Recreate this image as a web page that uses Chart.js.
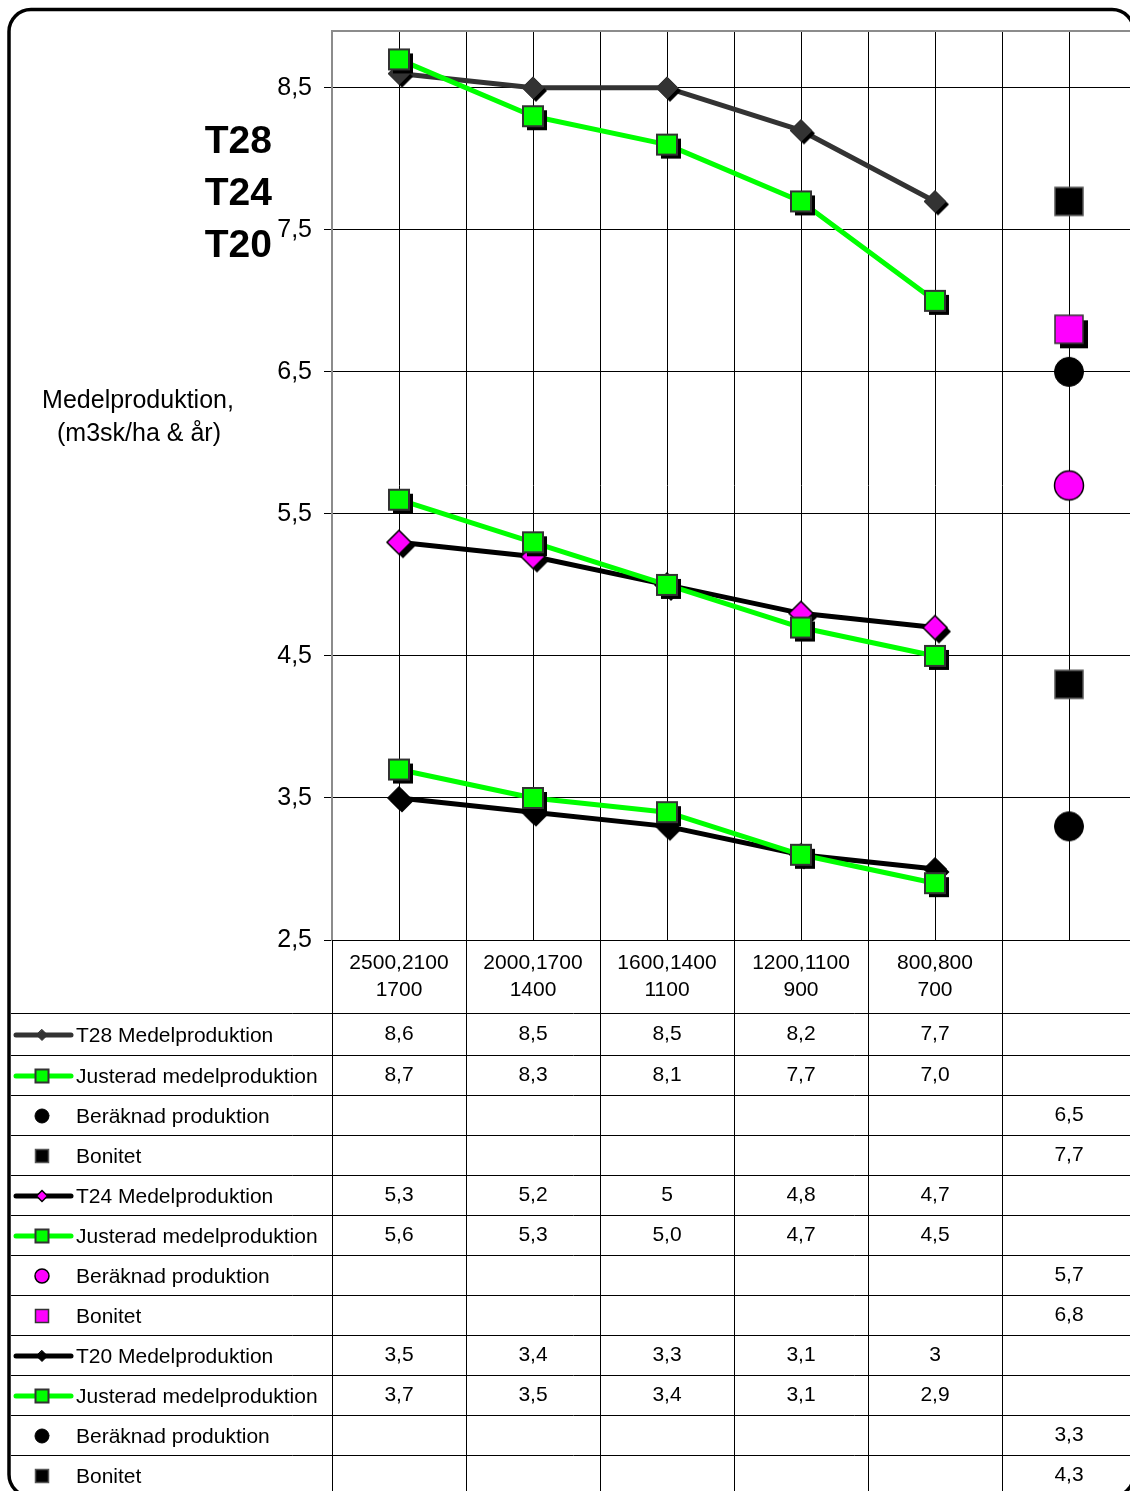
<!DOCTYPE html>
<html>
<head>
<meta charset="utf-8">
<title>Medelproduktion T28 T24 T20</title>
<script src="https://cdn.jsdelivr.net/npm/chart.js@4/dist/chart.umd.min.js"></script>
<style>
  html, body { margin: 0; padding: 0; background: #fff; overflow: hidden; }
  canvas { display: block; }
</style>
</head>
<body>
<canvas id="chart" width="1136" height="1491"></canvas>
<script>
// Stand densities (stems/ha at successive thinnings); last column holds the site values
const categories = [
  ['2500,2100', '1700'],
  ['2000,1700', '1400'],
  ['1600,1400', '1100'],
  ['1200,1100', '900'],
  ['800,800', '700'],
  ''
];

const t28Medel    = [8.6, 8.5, 8.5, 8.2, 7.7];
const t28Justerad = [8.7, 8.3, 8.1, 7.7, 7.0];
const t28Beraknad = 6.5;
const t28Bonitet  = 7.7;

const t24Medel    = [5.3, 5.2, 5, 4.8, 4.7];
const t24Justerad = [5.6, 5.3, 5.0, 4.7, 4.5];
const t24Beraknad = 5.7;
const t24Bonitet  = 6.8;

const t20Medel    = [3.5, 3.4, 3.3, 3.1, 3];
const t20Justerad = [3.7, 3.5, 3.4, 3.1, 2.9];
const t20Beraknad = 3.3;
const t20Bonitet  = 4.3;

const yTicks = [2.5, 3.5, 4.5, 5.5, 6.5, 7.5, 8.5];
const siteClasses = ['T28', 'T24', 'T20'];
const yTitle = ['Medelproduktion,', '(m3sk/ha & år)'];

const FONT = 'Arial, "Liberation Sans", Helvetica, sans-serif';

// single value placed in the last (site) column
const lastOnly = v => categories.map((_, i) => (i === categories.length - 1 ? v : null));
const general = v => String(v).replace('.', ',');
const oneDecimal = v => v.toFixed(1).replace('.', ',');

const GREEN = '#00ff00', MAGENTA = '#ff00ff', DARK = '#333333', BLACK = '#000000';

const series = [
  { label: 'T28 Medelproduktion', data: t28Medel, fmt: general, line: DARK,
    shape: 'diamond', size: 22, fill: DARK, stroke: DARK, strokeW: 1, shadow: 3, keySize: 11 },
  { label: 'Justerad medelproduktion', data: t28Justerad, fmt: oneDecimal, line: GREEN,
    shape: 'square', size: 20, fill: GREEN, stroke: DARK, strokeW: 2, shadow: 4, keySize: 13 },
  { label: 'Beräknad produktion', data: lastOnly(t28Beraknad), fmt: general, line: null,
    shape: 'circle', size: 29, fill: BLACK, stroke: BLACK, strokeW: 1, shadow: 0, keySize: 14 },
  { label: 'Bonitet', data: lastOnly(t28Bonitet), fmt: general, line: null,
    shape: 'square', size: 28, fill: BLACK, stroke: '#555555', strokeW: 1.5, shadow: 0, keySize: 13 },

  { label: 'T24 Medelproduktion', data: t24Medel, fmt: general, line: BLACK,
    shape: 'diamond', size: 24, fill: MAGENTA, stroke: BLACK, strokeW: 1.5, shadow: 4, keySize: 11 },
  { label: 'Justerad medelproduktion', data: t24Justerad, fmt: oneDecimal, line: GREEN,
    shape: 'square', size: 20, fill: GREEN, stroke: DARK, strokeW: 2, shadow: 4, keySize: 13 },
  { label: 'Beräknad produktion', data: lastOnly(t24Beraknad), fmt: general, line: null,
    shape: 'circle', size: 29, fill: MAGENTA, stroke: BLACK, strokeW: 1.5, shadow: 0, keySize: 14 },
  { label: 'Bonitet', data: lastOnly(t24Bonitet), fmt: general, line: null,
    shape: 'square', size: 28, fill: MAGENTA, stroke: DARK, strokeW: 1.5, shadow: 5, keySize: 13 },

  { label: 'T20 Medelproduktion', data: t20Medel, fmt: general, line: BLACK,
    shape: 'diamond', size: 23, fill: BLACK, stroke: BLACK, strokeW: 1, shadow: 3, keySize: 11 },
  { label: 'Justerad medelproduktion', data: t20Justerad, fmt: oneDecimal, line: GREEN,
    shape: 'square', size: 20, fill: GREEN, stroke: DARK, strokeW: 2, shadow: 4, keySize: 13 },
  { label: 'Beräknad produktion', data: lastOnly(t20Beraknad), fmt: general, line: null,
    shape: 'circle', size: 29, fill: BLACK, stroke: BLACK, strokeW: 1, shadow: 0, keySize: 14 },
  { label: 'Bonitet', data: lastOnly(t20Bonitet), fmt: general, line: null,
    shape: 'square', size: 28, fill: BLACK, stroke: '#555555', strokeW: 1.5, shadow: 0, keySize: 13 }
];

function shapePath(g, shape, x, y, s) {
  g.beginPath();
  if (shape === 'diamond') {
    const h = s / 2;
    g.moveTo(x, y - h); g.lineTo(x + h, y); g.lineTo(x, y + h); g.lineTo(x - h, y);
    g.closePath();
  } else if (shape === 'square') {
    g.rect(x - s / 2, y - s / 2, s, s);
  } else {
    g.arc(x, y, s / 2, 0, Math.PI * 2);
  }
}

function drawMarker(g, s, x, y, size, withShadow) {
  if (withShadow && s.shadow) {
    shapePath(g, s.shape, x + s.shadow, y + s.shadow, size);
    g.fillStyle = BLACK;
    g.fill();
  }
  shapePath(g, s.shape, x, y, size);
  g.fillStyle = s.fill;
  g.fill();
  if (s.strokeW) {
    g.lineWidth = s.strokeW;
    g.strokeStyle = s.stroke;
    g.lineJoin = 'miter';
    g.stroke();
  }
}

// marker sprite (with drop shadow) used as the point style
function markerSprite(s) {
  const pad = Math.ceil(s.shadow + s.strokeW + 2);
  let dim = Math.ceil(s.size + 2 * pad);
  if (dim % 2) dim++;
  const cv = document.createElement('canvas');
  cv.width = dim; cv.height = dim;
  drawMarker(cv.getContext('2d'), s, dim / 2, dim / 2, s.size, true);
  return cv;
}

const datasets = series.map((s, i) => ({
  label: s.label,
  data: s.data,
  showLine: !!s.line,
  borderColor: s.line || BLACK,
  borderWidth: 5,
  borderJoinStyle: 'round',
  borderCapStyle: 'round',
  tension: 0,
  pointStyle: markerSprite(s),
  pointRadius: s.size / 2,
  pointHoverRadius: s.size / 2,
  fill: false,
  clip: 20,
  order: -i
}));

// vertical lines through each category centre
const centreLines = {
  id: 'centreLines',
  beforeDatasetsDraw(chart) {
    const { ctx, chartArea: a, scales: { x } } = chart;
    ctx.save();
    ctx.strokeStyle = BLACK;
    ctx.lineWidth = 1;
    ctx.beginPath();
    categories.forEach((_, i) => {
      const px = Math.round(x.getPixelForValue(i)) + 0.5;
      ctx.moveTo(px, a.top);
      ctx.lineTo(px, a.bottom);
    });
    ctx.stroke();
    // plot area top edge
    ctx.strokeStyle = '#8c8c8c';
    ctx.lineWidth = 2;
    ctx.beginPath();
    ctx.moveTo(a.left, a.top);
    ctx.lineTo(a.right, a.top);
    ctx.stroke();
    ctx.restore();
  }
};

// data table, axis title, site class labels and outer frame
const tableAndFrame = {
  id: 'tableAndFrame',
  beforeDraw(chart) {
    const { ctx, width, height } = chart;
    ctx.save();
    ctx.fillStyle = '#ffffff';
    ctx.fillRect(0, 0, width, height);
    ctx.restore();
  },
  afterDraw(chart) {
    const { ctx, chartArea: a, scales: { x }, width, height } = chart;
    const headerBottom = a.bottom + 73;
    const rowH = 40;
    const firstRowH = 42;
    const rowTop = r => (r === 0 ? headerBottom : headerBottom + firstRowH + (r - 1) * rowH);
    const rowMid = r => rowTop(r) + (r === 0 ? firstRowH : rowH) / 2;
    const step = x.getPixelForValue(1) - x.getPixelForValue(0);

    ctx.save();
    ctx.strokeStyle = BLACK;
    ctx.lineWidth = 1;
    ctx.beginPath();
    // column separators
    for (let i = 0; i < categories.length; i++) {
      const px = Math.round(x.getPixelForValue(i) - step / 2) + 0.5;
      ctx.moveTo(px, a.bottom);
      ctx.lineTo(px, height);
    }
    // row separators
    for (let r = 0; r < series.length; r++) {
      const py = Math.round(rowTop(r)) + 0.5;
      ctx.moveTo(11, py);
      ctx.lineTo(width, py);
    }
    ctx.stroke();

    // category header
    ctx.fillStyle = BLACK;
    ctx.font = '21px ' + FONT;
    ctx.textAlign = 'center';
    ctx.textBaseline = 'middle';
    categories.forEach((lab, i) => {
      const lines = Array.isArray(lab) ? lab : [lab];
      lines.forEach((t, k) => ctx.fillText(t, x.getPixelForValue(i), a.bottom + 23 + k * 27));
    });

    // rows: legend key, series name, values
    series.forEach((s, r) => {
      const cy = rowMid(r);
      if (s.line) {
        ctx.strokeStyle = s.line;
        ctx.lineWidth = 5;
        ctx.lineCap = 'round';
        ctx.beginPath();
        ctx.moveTo(16, cy + 1);
        ctx.lineTo(71, cy + 1);
        ctx.stroke();
      }
      drawMarker(ctx, s, 42, cy + 1, s.keySize, false);

      ctx.fillStyle = BLACK;
      ctx.font = '21px ' + FONT;
      ctx.textAlign = 'left';
      ctx.textBaseline = 'middle';
      ctx.fillText(s.label, 76, cy + 2);

      ctx.textAlign = 'center';
      s.data.forEach((v, i) => {
        if (v === null || v === undefined) return;
        ctx.fillText(s.fmt(v), x.getPixelForValue(i), cy);
      });
    });

    // y axis title
    ctx.font = '25px ' + FONT;
    ctx.textAlign = 'center';
    ctx.textBaseline = 'alphabetic';
    ctx.fillText(yTitle[0], 138, 408);
    ctx.fillText(yTitle[1], 139, 441);

    // site classes
    ctx.font = 'bold 39px ' + FONT;
    ctx.textAlign = 'right';
    siteClasses.forEach((t, i) => ctx.fillText(t, 272, 153 + i * 52));

    // outer rounded frame
    ctx.strokeStyle = BLACK;
    ctx.lineWidth = 3.5;
    ctx.beginPath();
    ctx.roundRect(9, 9.5, 1125, 1487, 22);
    ctx.stroke();
    ctx.restore();
  }
};

new Chart(document.getElementById('chart'), {
  type: 'line',
  data: { labels: categories, datasets },
  options: {
    responsive: false,
    animation: false,
    events: [],
    layout: { autoPadding: false, padding: { top: 31, left: 0, right: 0, bottom: 0 } },
    plugins: { legend: { display: false }, tooltip: { enabled: false } },
    scales: {
      x: {
        type: 'category',
        offset: true,
        grid: { offset: true, color: BLACK, lineWidth: 1, drawTicks: false },
        border: { color: BLACK, width: 1 },
        ticks: { display: false },
        afterFit: s => { s.height = 551; }
      },
      y: {
        min: 2.5,
        max: 8.9,
        afterBuildTicks: s => { s.ticks = yTicks.map(v => ({ value: v })); },
        grid: { color: BLACK, lineWidth: 1, tickLength: 8 },
        border: { color: '#8c8c8c', width: 2 },
        ticks: {
          color: BLACK,
          padding: 12,
          font: { family: FONT, size: 25 },
          callback: v => general(v)
        },
        afterFit: s => { s.width = 332; }
      }
    }
  },
  plugins: [centreLines, tableAndFrame]
});
</script>
</body>
</html>
